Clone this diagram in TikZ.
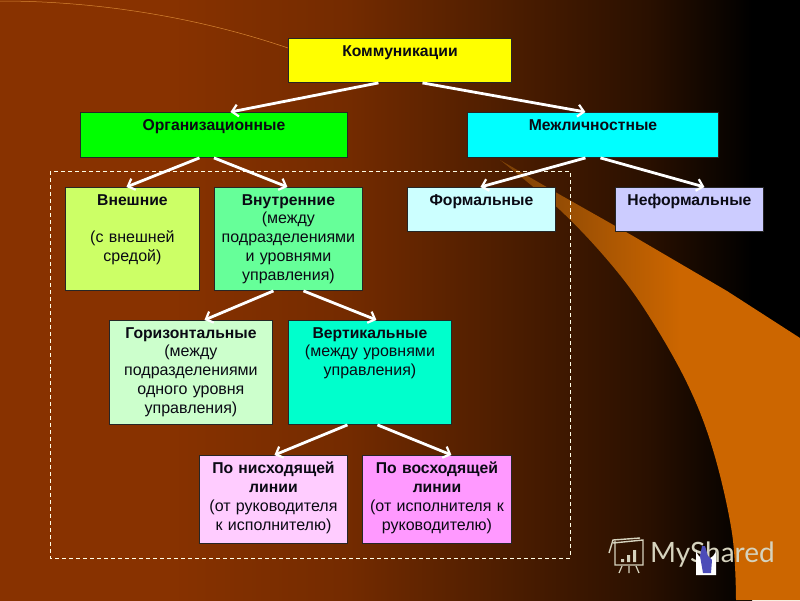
\documentclass[tikz,border=0pt]{standalone}
\usepackage{fontspec}
\setmainfont{Liberation Sans}
\newfontfamily\wmfont{Lato}
\usetikzlibrary{arrows.meta}
\definecolor{bga}{HTML}{883200}
\definecolor{bgb}{HTML}{742B00}
\definecolor{bgc}{HTML}{4F1E00}
\definecolor{bgd}{HTML}{2A1000}
\definecolor{orng}{HTML}{CC6600}
\definecolor{orngd}{HTML}{7A4006}
\definecolor{ink}{HTML}{0A0A14}
\definecolor{wm}{HTML}{D6D3BE}
\definecolor{cyel}{HTML}{FFFF00}
\definecolor{cgrn}{HTML}{00FF00}
\definecolor{ccya}{HTML}{00FFFF}
\definecolor{cvne}{HTML}{CCFF66}
\definecolor{cvnu}{HTML}{66FF99}
\definecolor{cfor}{HTML}{CCFFFF}
\definecolor{cnef}{HTML}{CCCCFF}
\definecolor{cgor}{HTML}{CCFFCC}
\definecolor{cver}{HTML}{00FFCC}
\definecolor{cnis}{HTML}{FFCCFF}
\definecolor{cvos}{HTML}{FF99FF}
\pgfdeclarehorizontalshading{bgshade}{100bp}{
 color(0bp)=(bga); color(36bp)=(bga); color(48bp)=(bgb); color(58bp)=(bgc); color(68bp)=(bgd); color(75bp)=(black); color(100bp)=(black)}
\pgfdeclarehorizontalshading{swshade}{100bp}{
 color(0bp)=(orngd); color(25bp)=(orngd); color(55bp)=(orng); color(100bp)=(orng)}
\tikzset{
 x=1pt,y=-1pt,
 box/.style={draw=black!85,line width=0.9pt,anchor=north west,inner sep=0pt},
 boxtext/.style={text=ink,align=center,anchor=north,inner sep=0pt,font=\fontsize{16}{18.8}\selectfont},
 link/.style={draw=white,line width=2.8pt,line cap=butt,-{Straight Barb[length=6pt,width=12pt,line width=2.2pt]}},
}
\newcommand{\hd}[1]{{\fontsize{15.7}{18.8}\selectfont\bfseries #1}}
\newcommand{\bx}[6]{%
 \node[box,fill=#5,minimum width=#3pt,minimum height=#4pt] (#1) at (#2) {};
 \node[boxtext,text width=#3pt] (#1t) at ([yshift=-7pt]#1.north) {#6};
}
\begin{document}
\begin{tikzpicture}
\useasboundingbox (0,0) rectangle (800,600);
\shade[shading=bgshade] (0,0) rectangle (752,600);
\fill[black] (751,0) rectangle (800,600);
\shade[shading=swshade] (500,160) -- (557,193) -- (633,236) -- (727,291) -- (800,338) -- (800,600) -- (736,600)
  -- plot[smooth,tension=0.6] coordinates {(736,600) (732,533) (713,450) (687,383) (647,313) (610,263) (560,210) (500,160)} -- cycle;
\draw[orng!80!white,line width=0.5pt] (0,1) .. controls (100,1) and (200,18) .. (288,48);
\draw[white!90!yellow,dash pattern=on 4pt off 3pt,line width=0.8pt] (50,171) rectangle (570,558);
\bx{kom}{288,38}{223}{44}{cyel}{\hd{Коммуникации}}
\bx{org}{80,112}{267}{45}{cgrn}{\hd{Организационные}}
\bx{mezh}{467,112}{251}{45}{ccya}{\hd{Межличностные}}
\bx{vne}{65,187}{134}{103}{cvne}{\hd{Внешние}\\[18.8pt](с внешней\\средой)}
\bx{vnu}{214,187}{148}{103}{cvnu}{\hd{Внутренние}\\(между\\подразделениями\\и уровнями\\управления)}
\bx{form}{407,187}{148}{44}{cfor}{\hd{Формальные}}
\bx{nef}{615,187}{148}{44}{cnef}{\hd{Неформальные}}
\bx{gor}{109,320}{163}{104}{cgor}{\hd{Горизонтальные}\\(между\\подразделениями\\одного уровня\\управления)}
\bx{ver}{288,320}{163}{104}{cver}{\hd{Вертикальные}\\(между уровнями\\управления)}
\bx{nis}{199,455}{148}{88}{cnis}{\hd{По нисходящей}\\\hd{линии}\\(от руководителя\\к исполнителю)}
\bx{vos}{362,455}{149}{88}{cvos}{\hd{По восходящей}\\\hd{линии}\\(от исполнителя к\\руководителю)}
\path[link] ([xshift=-21.5pt]kom.south) -- ([xshift=16.5pt]org.north);
\path[link] ([xshift=22.5pt]kom.south) -- ([xshift=-7.5pt]mezh.north);
\path[link] ([xshift=-14.5pt]org.south) -- ([xshift=-6pt]vne.north);
\path[link] ([xshift=0pt]org.south) -- ([xshift=-1pt]vnu.north);
\path[link] ([xshift=-7.5pt]mezh.south) -- ([xshift=-1pt]form.north);
\path[link] ([xshift=7.5pt]mezh.south) -- ([xshift=15pt]nef.north);
\path[link] ([xshift=-15pt]vnu.south) -- ([xshift=13.5pt]gor.north);
\path[link] ([xshift=15pt]vnu.south) -- ([xshift=6.5pt]ver.north);
\path[link] ([xshift=-22.5pt]ver.south) -- ([xshift=1pt]nis.north);
\path[link] ([xshift=7.5pt]ver.south) -- ([xshift=14.5pt]vos.north);
% watermark
\node[anchor=west,inner sep=0pt,text=wm,font=\wmfont\fontsize{28}{28}\selectfont] (wmt) at (650,555) {MyShared};
\draw[wm,line width=1.4pt] (613,543) -- (643,540) -- (643,565) -- (615,565) -- (615,541) (609,553) -- (613,540) -- (640,538);
\fill[wm] (621,559) rectangle (624,562) (627,555) rectangle (630,562) (633,550) rectangle (636,562);
\draw[wm,line width=1.2pt] (622,566) -- (619,573) (629,566) -- (629,573) (636,566) -- (639,573);
\fill[white] (696,575) -- (696,549) arc[start angle=180,end angle=0,radius=10] -- (716,575) -- cycle;
\fill[blue!60!black!70!white] (702,546) -- (705,546) -- (708,556) -- (712,560) -- (711,573) -- (703,573) -- (700,556) -- cycle;
\end{tikzpicture}
\end{document}
